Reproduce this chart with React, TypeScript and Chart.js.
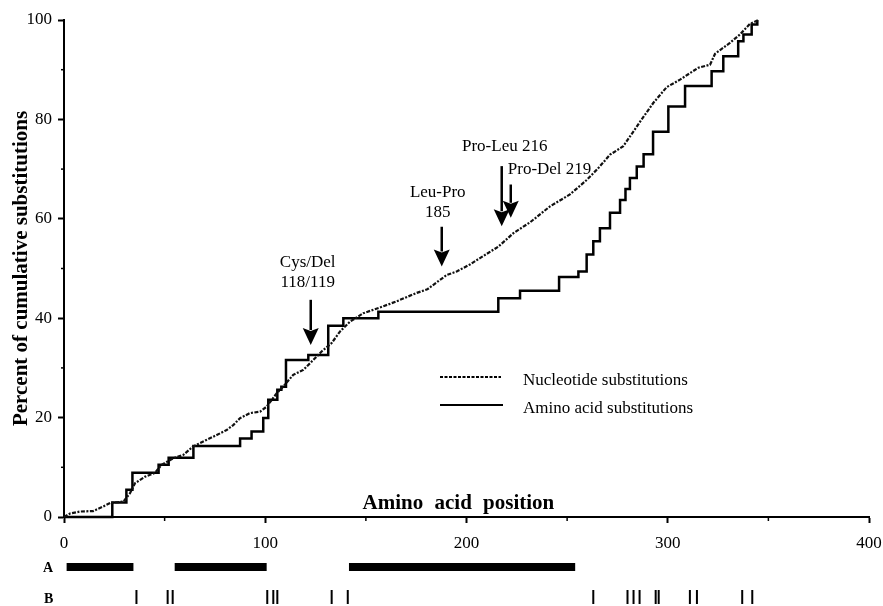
import React, { useEffect, useRef } from 'react';
import { Chart, registerables } from 'chart.js';

Chart.register(...registerables);

// Amino acid substitutions: cumulative % (step curve; y is the value reached at position x)
const aminoX = [0, 24, 31, 34, 47, 52, 64.3, 87.5, 93.2, 99, 101.5, 106, 108, 110.3, 121.4, 131.3, 138.8, 156.2, 215.8, 226.6, 246, 255.6, 259.7, 263, 266.3, 271.3, 276.3, 279, 281.2, 284.6, 288, 292.7, 300.3, 308.6, 321.8, 327.6, 335, 337.6, 341.7, 344.5];
const aminoY = [0, 2.9, 5.5, 8.9, 10.5, 11.9, 14.3, 15.8, 17.2, 19.9, 23.6, 25.6, 26.2, 31.6, 32.6, 38.5, 40.0, 41.3, 44.0, 45.5, 48.3, 49.4, 52.8, 55.5, 58.1, 61.2, 63.8, 66.0, 68.2, 70.5, 73.0, 77.5, 82.6, 86.7, 89.7, 92.7, 95.7, 97.1, 99.1, 100];

// Nucleotide substitutions: cumulative %
const nucX = [0, 3, 8, 14.5, 19.4, 22.9, 29.5, 32.8, 35.3, 40.2, 45.2, 48.5, 54.3, 59.3, 64.2, 69.2, 75.9, 80.8, 84.1, 87.5, 92.4, 97.4, 100.7, 105.7, 108.2, 113.9, 118.9, 123.9, 128, 133, 137.1, 142.1, 148.7, 158.7, 165.3, 175.3, 180.5, 186.8, 190.2, 195.1, 201.7, 206.7, 215.8, 223.3, 231.6, 241.5, 251.4, 259.7, 265.5, 271.3, 277.9, 286.2, 292.8, 299.5, 306.1, 315.2, 321, 323.5, 330.9, 335.9, 340.8, 345];
const nucY = [0, 0.7, 1.1, 1.2, 2.1, 2.8, 3.1, 4.8, 6.8, 8.1, 8.9, 10.5, 11.8, 12.5, 14.2, 15.2, 16.5, 17.5, 18.5, 19.9, 20.9, 21.2, 22.2, 24.9, 25.9, 28.6, 29.6, 31.6, 33.3, 35.0, 37.3, 39.3, 41.0, 42.4, 43.4, 45.1, 45.8, 47.7, 48.7, 49.4, 50.8, 52.1, 54.4, 57.1, 59.3, 62.5, 64.9, 67.8, 70.2, 72.9, 74.6, 79.5, 83.3, 86.5, 88.0, 90.4, 91.0, 93.2, 95.4, 97.1, 99.2, 100];

const seriesLabels = ['Nucleotide substitutions', 'Amino acid substitutions'];
const xTickLabels = ['0', '100', '200', '300', '400'];
const yTickLabels = ['0', '20', '40', '60', '80', '100'];
const xTitle = 'Amino acid position';
const yTitle = 'Percent of cumulative substitutions';

// Track A: regions (start/end positions)
const regionAStart = [1.3, 55, 141.6];
const regionAEnd = [34.5, 100.7, 254];
// Track B: individual sites
const siteB = [36, 51.5, 54, 101, 104, 106, 133, 141, 263, 280, 283, 286, 294, 295.5, 311, 314.5, 337, 342];
const trackLabels = ['A', 'B'];

// Arrow annotations
const annotationLines = [['Cys/Del', '118/119'], ['Leu-Pro', '185'], ['Pro-Leu 216'], ['Pro-Del 219']];
const annotationX = [122.6, 187.7, 217.5, 222];
const arrowTipY = [34.6, 50.4, 58.5, 60.2];
const arrowTopY = [43.7, 58.4, 70.6, 66.9];

const SERIF = '"Liberation Serif", "DejaVu Serif", serif';

const overlayPlugin = {
  id: 'overlay',
  afterDraw(chart: any) {
    const { ctx, chartArea, scales } = chart;
    const xs = scales.x;
    const ys = scales.y;
    ctx.save();
    ctx.strokeStyle = '#000';
    ctx.fillStyle = '#000';

    // minor ticks
    ctx.lineWidth = 1.5;
    for (let v = 50; v < 400; v += 100) {
      const px = xs.getPixelForValue(v);
      ctx.beginPath();
      ctx.moveTo(px, chartArea.bottom);
      ctx.lineTo(px, chartArea.bottom + 4);
      ctx.stroke();
    }
    for (let v = 10; v < 100; v += 20) {
      const py = ys.getPixelForValue(v);
      ctx.beginPath();
      ctx.moveTo(chartArea.left - 3, py);
      ctx.lineTo(chartArea.left, py);
      ctx.stroke();
    }

    // x title above axis line
    ctx.font = `bold 21px ${SERIF}`;
    (ctx as any).wordSpacing = '6px';
    ctx.textAlign = 'center';
    ctx.textBaseline = 'alphabetic';
    ctx.fillText(xTitle, xs.getPixelForValue(196), chartArea.bottom - 8);
    (ctx as any).wordSpacing = '0px';

    // annotations
    const textDx = [-3, -4, 3, -3];
    const gap = [17, 14, 20, 15];
    ctx.font = `17px ${SERIF}`;
    ctx.textBaseline = 'middle';
    annotationLines.forEach((lines, i) => {
      const ax = xs.getPixelForValue(annotationX[i]);
      const tip = ys.getPixelForValue(arrowTipY[i]);
      const top = ys.getPixelForValue(arrowTopY[i]);
      const headH = 17;
      const headW = 8;
      ctx.lineWidth = 2.5;
      ctx.beginPath();
      ctx.moveTo(ax, top);
      ctx.lineTo(ax, tip - headH + 2);
      ctx.stroke();
      ctx.beginPath();
      ctx.moveTo(ax, tip);
      ctx.lineTo(ax - headW, tip - headH);
      ctx.lineTo(ax, tip - headH + 3);
      ctx.lineTo(ax + headW, tip - headH);
      ctx.closePath();
      ctx.fill();
      const n = lines.length;
      lines.forEach((t, j) => {
        const cy = top - gap[i] - (n - 1 - j) * 20;
        ctx.textAlign = i === 3 ? 'left' : 'center';
        ctx.fillText(t, ax + textDx[i], cy);
      });
    });

    // legend
    const lx0 = chartArea.left + 376;
    const lx1 = chartArea.left + 437;
    const ly0 = chartArea.top + 357;
    const ly1 = chartArea.top + 385;
    ctx.lineWidth = 1.8;
    ctx.setLineDash([3, 1.5]);
    ctx.beginPath();
    ctx.moveTo(lx0, ly0);
    ctx.lineTo(lx1, ly0);
    ctx.stroke();
    ctx.setLineDash([]);
    ctx.lineWidth = 2.2;
    ctx.beginPath();
    ctx.moveTo(lx0, ly1);
    ctx.lineTo(lx1 + 2, ly1);
    ctx.stroke();
    ctx.font = `17px ${SERIF}`;
    ctx.textAlign = 'left';
    ctx.textBaseline = 'middle';
    ctx.fillText(seriesLabels[0], lx1 + 22, ly0 + 4);
    ctx.fillText(seriesLabels[1], lx1 + 22, ly1 + 4);

    // tracks
    const aY = chartArea.bottom + 50;
    const bY = chartArea.bottom + 80;
    ctx.font = `bold 14px ${SERIF}`;
    ctx.textAlign = 'left';
    ctx.fillText(trackLabels[0], 43, aY + 1);
    ctx.fillText(trackLabels[1], 44, bY + 2);
    regionAStart.forEach((s, i) => {
      const p0 = xs.getPixelForValue(s);
      const p1 = xs.getPixelForValue(regionAEnd[i]);
      ctx.fillRect(p0, aY - 4, p1 - p0, 8);
    });
    ctx.lineWidth = 2;
    siteB.forEach((s) => {
      const px = xs.getPixelForValue(s);
      ctx.beginPath();
      ctx.moveTo(px, bY - 7);
      ctx.lineTo(px, bY + 7);
      ctx.stroke();
    });

    ctx.restore();
  },
};

export default function App() {
  const ref = useRef<HTMLCanvasElement | null>(null);

  useEffect(() => {
    if (!ref.current) return;
    const chart = new Chart(ref.current, {
      type: 'line',
      data: {
        datasets: [
          {
            label: seriesLabels[0],
            data: nucX.map((x, i) => ({ x, y: nucY[i] })),
            borderColor: '#111',
            borderWidth: 2.2,
            borderDash: [4, 1.5, 2, 1.5],
            pointRadius: 0,
            tension: 0,
            fill: false,
            clip: false as any,
          },
          {
            label: seriesLabels[1],
            data: aminoX.map((x, i) => ({ x, y: aminoY[i] })),
            borderColor: '#000',
            borderWidth: 2.5,
            stepped: 'before',
            pointRadius: 0,
            fill: false,
            clip: false as any,
          },
        ],
      },
      options: {
        responsive: false,
        animation: false,
        devicePixelRatio: 1,
        layout: { padding: { top: 20, right: 14, left: 0, bottom: 0 } },
        plugins: {
          legend: { display: false },
          tooltip: { enabled: false },
        },
        scales: {
          x: {
            type: 'linear',
            min: 0,
            max: 400,
            afterFit: (s: any) => {
              s.height = 89;
              s.paddingLeft = 0;
              s.paddingRight = 0;
            },
            border: { display: true, color: '#000', width: 2 },
            grid: { drawOnChartArea: false, drawTicks: true, tickLength: 6, tickColor: '#000', tickWidth: 2 },
            ticks: {
              stepSize: 100,
              padding: 10,
              color: '#000',
              maxRotation: 0,
              font: { family: SERIF, size: 17 },
              callback: (_v: any, i: number) => xTickLabels[i],
            },
            title: { display: false },
          },
          y: {
            type: 'linear',
            min: 0,
            max: 100,
            afterFit: (s: any) => {
              s.width = 64;
              s.paddingTop = 0;
              s.paddingBottom = 0;
            },
            border: { display: true, color: '#000', width: 2 },
            grid: { drawOnChartArea: false, drawTicks: true, tickLength: 6, tickColor: '#000', tickWidth: 2 },
            ticks: {
              stepSize: 20,
              padding: 6,
              color: '#000',
              font: { family: SERIF, size: 17 },
              callback: (_v: any, i: number) => yTickLabels[i],
            },
            title: {
              display: true,
              text: yTitle,
              color: '#000',
              font: { family: SERIF, size: 21, weight: 'bold' },
              padding: { top: 9, bottom: 0 },
            },
          },
        },
      },
      plugins: [overlayPlugin],
    });
    return () => chart.destroy();
  }, []);

  return (
    <div style={{ position: 'absolute', left: 0, top: 0, width: 883, height: 606 }}>
      <canvas ref={ref} width={883} height={606} style={{ display: 'block' }} />
    </div>
  );
}
